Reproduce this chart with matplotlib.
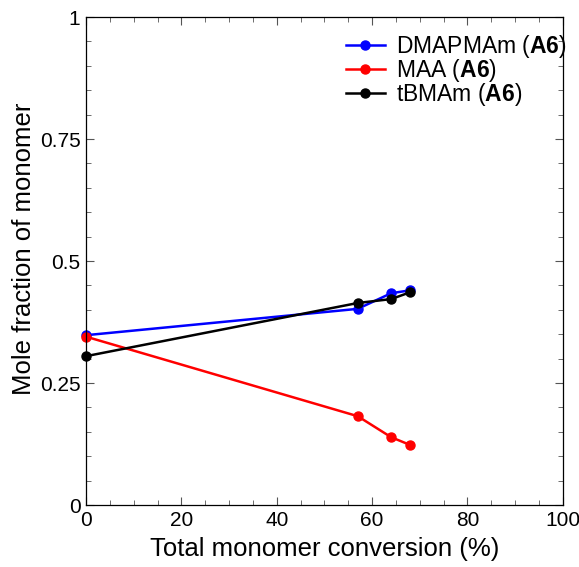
import matplotlib

matplotlib.use("Agg")
import matplotlib.pyplot as plt
from matplotlib.ticker import MultipleLocator

plt.rcParams["font.family"] = ["Liberation Sans", "DejaVu Sans"]
plt.rcParams["mathtext.fontset"] = "custom"
plt.rcParams["mathtext.rm"] = "Liberation Sans"
plt.rcParams["mathtext.bf"] = "Liberation Sans:bold"

# total monomer conversion (%)
conversion = [0, 57, 64, 68]
dmapmam = [0.348, 0.402, 0.434, 0.440]
maa = [0.345, 0.182, 0.139, 0.123]
tbmam = [0.305, 0.414, 0.422, 0.436]

series = [
    ("DMAPMAm", dmapmam, "#0000ff"),
    ("MAA", maa, "#ff0000"),
    ("tBMAm", tbmam, "#000000"),
]

fig = plt.figure(figsize=(5.79, 5.67), dpi=100)
ax = fig.add_axes([0.1485, 0.1093, 0.8235, 0.8607])

for name, vals, col in series:
    ax.plot(conversion, vals, color=col, lw=1.8, marker="o", ms=6.5,
            label=name + r" ($\mathbf{A6}$)", clip_on=False)

ax.set_xlim(0, 100)
ax.set_ylim(0, 1)
ax.xaxis.set_major_locator(MultipleLocator(20))
ax.xaxis.set_minor_locator(MultipleLocator(5))
ax.yaxis.set_major_locator(MultipleLocator(0.25))
ax.yaxis.set_minor_locator(MultipleLocator(0.05))
ax.set_yticks([0, 0.25, 0.5, 0.75, 1])
ax.set_yticklabels(["0", "0.25", "0.5", "0.75", "1"])
ax.tick_params(which="both", direction="in", top=True, right=True,
               labelsize=15, color="#555555")
ax.tick_params(which="major", length=6, width=0.8, pad=4)
ax.tick_params(which="minor", length=3.5, width=0.6)
for s in ax.spines.values():
    s.set_linewidth(0.9)

ax.set_xlabel("Total monomer conversion (%)", fontsize=18.5, labelpad=5)
ax.set_ylabel("Mole fraction of monomer", fontsize=18.5)
ax.yaxis.set_label_coords(-0.105, 0.525)

leg = ax.legend(loc="upper left", frameon=False, fontsize=16.5, handlelength=1.7,
                borderaxespad=0, borderpad=0, labelspacing=-0.12,
                handletextpad=0.5, bbox_to_anchor=(0.545, 0.968))
leg.set_zorder(5)

fig.savefig("out.png", dpi=100)
